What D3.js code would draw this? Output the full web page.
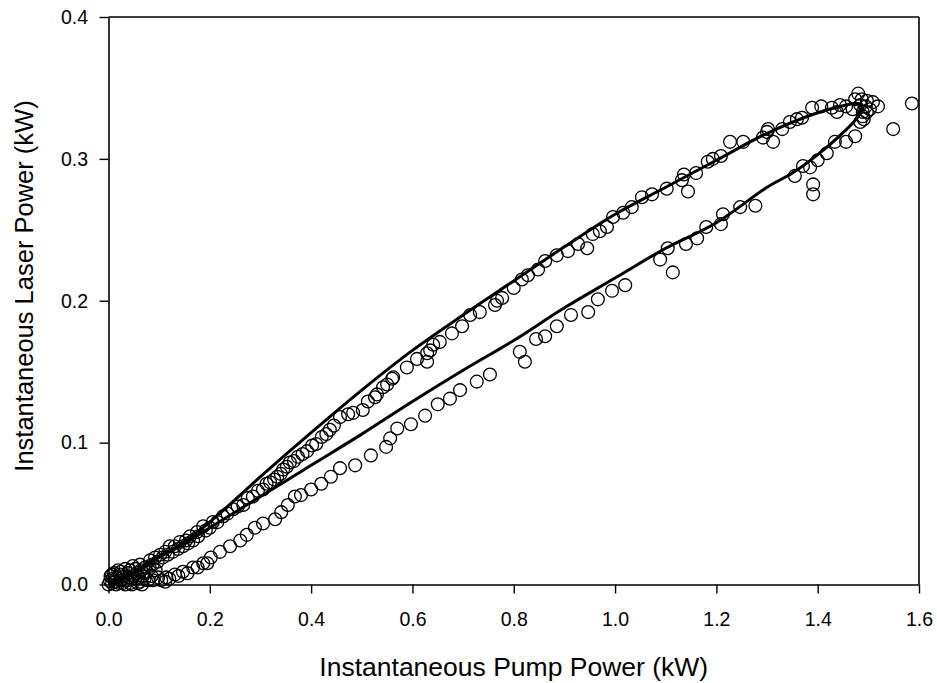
<!DOCTYPE html>
<html>
<head>
<meta charset="utf-8">
<script src="https://cdn.jsdelivr.net/npm/d3@7"></script>
<style>
  html, body { margin: 0; padding: 0; background: #fff; }
  svg { display: block; }
  text { font-family: "Liberation Sans", Arial, sans-serif; fill: #000; }
</style>
</head>
<body>
<svg id="chart" width="937" height="683"></svg>
<script>
// ---- data ----
const xTickValues = [0, 0.2, 0.4, 0.6, 0.8, 1.0, 1.2, 1.4, 1.6];
const yTickValues = [0, 0.1, 0.2, 0.3, 0.4];
const xTitle = "Instantaneous Pump Power (kW)";
const yTitle = "Instantaneous Laser Power (kW)";

// model loop (solid line): pump power, laser power
const modelPump = [0, 0.05, 0.1, 0.15, 0.2, 0.3, 0.4, 0.5, 0.6, 0.7, 0.8, 0.9, 1.0, 1.1, 1.2, 1.3, 1.4, 1.45, 1.475, 1.487,
                   1.48, 1.45, 1.4, 1.35, 1.3, 1.2, 1.1, 1.0, 0.9, 0.8, 0.7, 0.6, 0.5, 0.4, 0.3, 0.2, 0.15, 0.1, 0.05, 0];
const modelLaser = [0, 0.009, 0.020, 0.030, 0.044, 0.076, 0.107, 0.137, 0.165, 0.190, 0.214, 0.238, 0.261, 0.280, 0.299, 0.318, 0.3325, 0.3375, 0.339, 0.3385,
                    0.330, 0.3185, 0.303, 0.290, 0.280, 0.255, 0.237, 0.216, 0.195, 0.172, 0.151, 0.129, 0.106, 0.084, 0.062, 0.040, 0.029, 0.019, 0.008, 0];

// measured points (circles)
const measuredPump = [
  // near origin
  0.000, 0.003, 0.007, 0.009, 0.013, 0.017, 0.021, 0.025, 0.029, 0.033, 0.037, 0.041, 0.046, 0.052, 0.056, 0.058, 0.062, 0.068, 0.072, 0.007, 0.019, 0.033, 0.048, 0.088,
  0.004, 0.011, 0.015, 0.024, 0.028, 0.039, 0.043, 0.049, 0.053, 0.059, 0.064, 0.066, 0.071, 0.076, 0.081, 0.085, 0.093, 0.104, 0.112, 0.120, 0.138, 0.156, 0.176, 0.195,
  // lower branch
  0.078, 0.098, 0.114, 0.131, 0.147, 0.167, 0.187, 0.202, 0.220, 0.240, 0.260, 0.273, 0.289, 0.305, 0.329, 0.341, 0.354, 0.368, 0.380, 0.400,
  0.420, 0.439, 0.457, 0.487, 0.518, 0.548, 0.556, 0.570, 0.597, 0.625, 0.650, 0.674, 0.694, 0.727, 0.753, 0.812, 0.822, 0.844, 0.862, 0.885,
  0.913, 0.947, 0.966, 0.994, 1.020, 1.089, 1.104, 1.114, 1.140, 1.162, 1.180, 1.209, 1.213, 1.247, 1.277, 1.355, 1.371, 1.385, 1.391, 1.391,
  1.400, 1.418, 1.434, 1.456, 1.474, 1.484, 1.489, 1.497,
  // peak
  1.480, 1.487, 1.497, 1.509, 1.519, 1.503, 1.489, 1.495, 1.484, 1.474, 1.491, 1.549, 1.586,
  // upper branch
  0.023, 0.042, 0.062, 0.082, 0.092, 0.102, 0.112, 0.121, 0.131, 0.141, 0.153, 0.161, 0.175, 0.187, 0.206, 0.226, 0.246, 0.266, 0.285, 0.305,
  0.319, 0.333, 0.345, 0.358, 0.374, 0.392, 0.402, 0.421, 0.437, 0.457, 0.473, 0.483, 0.502, 0.512, 0.526, 0.530, 0.542, 0.550, 0.560, 0.562,
  0.589, 0.609, 0.629, 0.629, 0.635, 0.641, 0.654, 0.678, 0.698, 0.714, 0.733, 0.763, 0.767, 0.777, 0.800, 0.816, 0.828, 0.848, 0.862, 0.885,
  0.907, 0.927, 0.945, 0.956, 0.970, 0.984, 0.996, 1.016, 1.033, 1.053, 1.073, 1.102, 1.132, 1.136, 1.144, 1.160, 1.183, 1.193, 1.209, 1.227,
  1.253, 1.292, 1.300, 1.302, 1.312, 1.330, 1.345, 1.359, 1.369, 1.389, 1.407, 1.428, 1.438, 1.444, 1.456, 1.469,
  0.087, 0.097, 0.107, 0.117, 0.127, 0.137, 0.147, 0.157, 0.167, 0.177, 0.192, 0.200, 0.215, 0.235, 0.255, 0.275, 0.295, 0.312, 0.327, 0.340,
  0.352, 0.366, 0.383, 0.410, 0.430, 0.445
];
const measuredLaser = [
  // near origin
  0.000, 0.0025, 0.001, 0.004, 0.002, 0.005, 0.001, 0.003, 0.006, 0.000, 0.003, 0.005, 0.000, 0.004, 0.008, 0.001, 0.002, 0.006, 0.012, 0.007, 0.010, 0.011, 0.013, 0.003,
  0.006, 0.008, 0.000, 0.009, 0.001, 0.008, 0.001, 0.006, 0.011, 0.005, 0.010, 0.000, 0.004, 0.009, 0.013, 0.006, 0.010, 0.003, 0.002, 0.004, 0.006, 0.008, 0.012, 0.015,
  // lower branch
  0.003, 0.005, 0.005, 0.007, 0.009, 0.012, 0.015, 0.019, 0.023, 0.027, 0.031, 0.035, 0.040, 0.043, 0.046, 0.051, 0.056, 0.062, 0.063, 0.067,
  0.071, 0.076, 0.082, 0.084, 0.091, 0.097, 0.103, 0.110, 0.113, 0.119, 0.127, 0.131, 0.137, 0.143, 0.148, 0.164, 0.157, 0.173, 0.175, 0.182,
  0.190, 0.192, 0.201, 0.207, 0.211, 0.229, 0.237, 0.220, 0.240, 0.244, 0.252, 0.254, 0.261, 0.266, 0.267, 0.288, 0.295, 0.294, 0.282, 0.275,
  0.299, 0.304, 0.312, 0.312, 0.316, 0.326, 0.330, 0.333,
  // peak
  0.346, 0.342, 0.341, 0.340, 0.337, 0.335, 0.333, 0.337, 0.338, 0.342, 0.328, 0.321, 0.339,
  // upper branch
  0.007, 0.010, 0.014, 0.017, 0.019, 0.021, 0.023, 0.027, 0.027, 0.030, 0.031, 0.034, 0.037, 0.041, 0.044, 0.048, 0.053, 0.056, 0.062, 0.067,
  0.072, 0.076, 0.081, 0.086, 0.090, 0.094, 0.098, 0.104, 0.109, 0.118, 0.120, 0.121, 0.123, 0.129, 0.132, 0.134, 0.139, 0.141, 0.145, 0.146,
  0.153, 0.159, 0.157, 0.163, 0.165, 0.169, 0.171, 0.177, 0.182, 0.190, 0.192, 0.197, 0.200, 0.202, 0.209, 0.215, 0.218, 0.222, 0.228, 0.232,
  0.235, 0.240, 0.237, 0.247, 0.249, 0.252, 0.259, 0.262, 0.266, 0.273, 0.275, 0.279, 0.285, 0.289, 0.277, 0.290, 0.298, 0.300, 0.302, 0.312,
  0.312, 0.315, 0.319, 0.321, 0.312, 0.321, 0.326, 0.328, 0.329, 0.336, 0.337, 0.336, 0.333, 0.338, 0.337, 0.335,
  0.014, 0.016, 0.019, 0.021, 0.023, 0.025, 0.027, 0.029, 0.031, 0.034, 0.038, 0.040, 0.044, 0.050, 0.055, 0.061, 0.066, 0.071, 0.074, 0.078,
  0.083, 0.087, 0.092, 0.099, 0.106, 0.112
];

// ---- layout ----
const plot = { left: 108.5, right: 919, top: 17, bottom: 584.5 };
const svg = d3.select("#chart");

const x = d3.scaleLinear().domain([0, 1.6]).range([plot.left, plot.right]);
const y = d3.scaleLinear().domain([0, 0.4]).range([plot.bottom, plot.top]);

const fmt = d3.format(".1f");

// axes
const xAxis = d3.axisBottom(x).tickValues(xTickValues).tickFormat(fmt).tickSize(9).tickPadding(18.5).tickSizeOuter(0);
const yAxis = d3.axisLeft(y).tickValues(yTickValues).tickFormat(fmt).tickSize(9).tickPadding(11.5).tickSizeOuter(0);

const gx = svg.append("g").attr("transform", `translate(0,${plot.bottom})`).call(xAxis);
const gy = svg.append("g").attr("transform", `translate(${plot.left},0)`).call(yAxis);
[gx, gy].forEach(g => {
  g.selectAll("path.domain").attr("stroke", "#000").attr("stroke-width", 1.6);
  g.selectAll(".tick line").attr("stroke", "#000").attr("stroke-width", 1.4);
  g.selectAll(".tick text").attr("font-size", 19.5).attr("font-family", "'Liberation Sans', Arial, sans-serif").attr("fill", "#000");
});

// top and right frame lines
svg.append("line").attr("x1", x(0)).attr("x2", x(1.6)).attr("y1", y(0.4)).attr("y2", y(0.4))
  .attr("stroke", "#000").attr("stroke-width", 1.6);
svg.append("line").attr("x1", x(1.6)).attr("x2", x(1.6)).attr("y1", y(0.4)).attr("y2", y(0))
  .attr("stroke", "#000").attr("stroke-width", 1.6);

// measured circles
const measured = measuredPump.map((p, i) => ({ p, l: measuredLaser[i] }));
svg.append("g").selectAll("circle").data(measured).join("circle")
  .attr("cx", d => x(d.p)).attr("cy", d => y(d.l)).attr("r", 6.4)
  .attr("fill", "none").attr("stroke", "#000").attr("stroke-width", 1.3);

// model line
const model = modelPump.map((p, i) => ({ p, l: modelLaser[i] }));
const line = d3.line().x(d => x(d.p)).y(d => y(d.l)).curve(d3.curveCatmullRom.alpha(0.5));
svg.append("path").datum(model).attr("d", line)
  .attr("fill", "none").attr("stroke", "#000").attr("stroke-width", 3).attr("stroke-linejoin", "round");

// titles
svg.append("text").attr("x", (plot.left + plot.right) / 2).attr("y", 676)
  .attr("text-anchor", "middle").attr("font-size", 26.5).text(xTitle);
svg.append("text").attr("transform", `translate(33,286) rotate(-90)`)
  .attr("text-anchor", "middle").attr("font-size", 25.5).text(yTitle);
</script>
</body>
</html>
